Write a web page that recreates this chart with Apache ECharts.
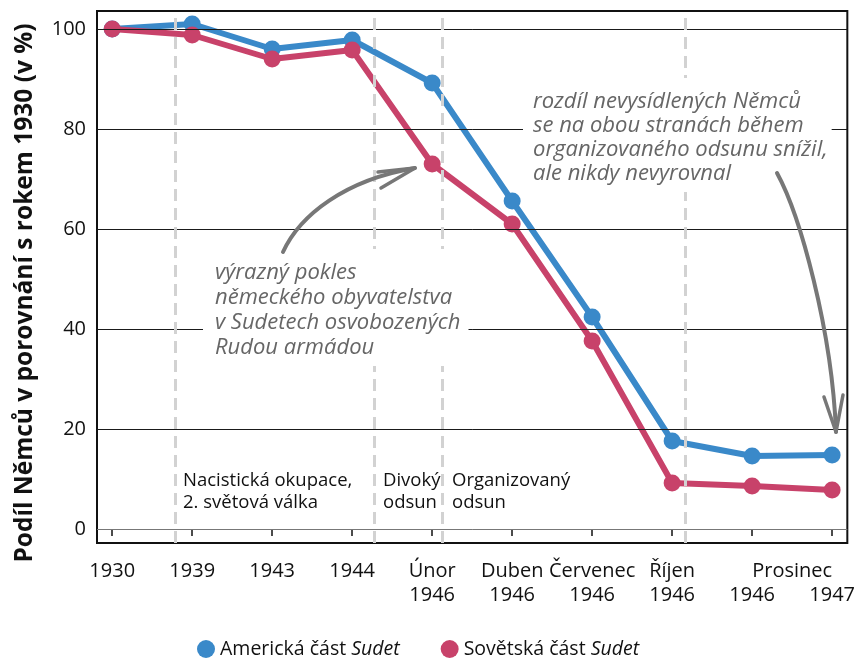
<!DOCTYPE html>
<html>
<head>
<meta charset="utf-8">
<script src="https://cdn.jsdelivr.net/npm/echarts@6/dist/echarts.min.js"></script>
<style>
  html, body { margin: 0; padding: 0; background: #fff; }
  #chart { width: 858px; height: 659px; }
</style>
</head>
<body>
<div id="chart"></div>
<script>
// data
const categories = ['1930', '1939', '1943', '1944', 'Únor\n1946', 'Duben\n1946', 'Červenec\n1946', 'Říjen\n1946', '\n1946', '\n1947'];
const sharedMonth = { at: 8.5, label: 'Prosinec' }; // "Prosinec" stojí mezi 1946 a 1947
const americanShare = [100, 101, 96, 97.8, 89.2, 65.6, 42.4, 17.6, 14.6, 14.8];
const sovietShare = [100, 98.8, 94, 95.8, 73, 61, 37.6, 9.2, 8.6, 7.8];
const yTicks = [0, 20, 40, 60, 80, 100];
const periodBreaks = [0.79, 3.28, 4.13, 7.16];
const seriesNames = ['Americká část Sudet', 'Sovětská část Sudet'];

const font = '"Open Sans", sans-serif';
const handFont = 'italic 22px "Open Sans", sans-serif';

const chart = echarts.init(document.getElementById('chart'));

const xIdx = categories.map((c, i) => i);
const toPairs = arr => arr.map((v, i) => [i, v]);

const options = {
  animation: false,
  textStyle: { fontFamily: font },
  grid: {
    left: 97, right: 8, top: 11, bottom: 116,
    show: true, borderColor: '#111', borderWidth: 2, backgroundColor: 'transparent'
  },
  xAxis: {
    type: 'value',
    min: -0.19,
    max: 9.19,
    axisLine: { show: false },
    splitLine: { show: false },
    axisTick: {
      show: true, length: 7, customValues: xIdx,
      lineStyle: { color: '#111', width: 1.5 }
    },
    axisLabel: {
      customValues: xIdx,
      margin: 16,
      fontSize: 20,
      lineHeight: 24,
      color: '#111',
      verticalAlign: 'top',
      formatter: v => categories[v]
    }
  },
  yAxis: {
    type: 'value',
    min: -2.8,
    max: 103.6,
    axisLine: { show: false },
    axisTick: { show: false },
    splitLine: { show: false },
    axisLabel: {
      customValues: yTicks,
      margin: 11,
      fontSize: 20,
      color: '#111'
    }
  },
  legend: {
    data: seriesNames,
    top: 634,
    left: 192,
    icon: 'circle',
    itemWidth: 18,
    itemHeight: 18,
    itemGap: 41,
    textStyle: {
      fontSize: 19,
      color: '#111',
      rich: {
        n: { fontSize: 19.5, color: '#111', fontFamily: font },
        i: { fontSize: 19.5, color: '#111', fontFamily: font, fontStyle: 'italic' }
      }
    },
    formatter: name => '{n|' + name.replace(/Sudet$/, '') + '}{i|Sudet}'
  },
  series: [
    {
      // pomocná řada: mřížka a hranice období
      name: 'mřížka',
      type: 'line',
      data: [],
      silent: true,
      z: 1,
      markLine: {
        symbol: 'none',
        silent: true,
        animation: false,
        label: { show: false },
        data: yTicks.map(v => ({
          yAxis: v,
          lineStyle: { color: v === 0 ? '#777' : '#1a1a1a', width: 1, type: 'solid' }
        })).concat(periodBreaks.map(v => ({
          xAxis: v,
          lineStyle: { color: '#d2d2d2', width: 3, type: [12, 7] }
        })))
      }
    },
    {
      name: seriesNames[0],
      type: 'line',
      z: 3,
      data: toPairs(americanShare),
      symbol: 'circle',
      symbolSize: 17,
      lineStyle: { color: '#3a89c9', width: 6 },
      itemStyle: { color: '#3a89c9' }
    },
    {
      name: seriesNames[1],
      type: 'line',
      z: 4,
      data: toPairs(sovietShare),
      symbol: 'circle',
      symbolSize: 17,
      lineStyle: { color: '#c8426a', width: 6 },
      itemStyle: { color: '#c8426a' }
    }
  ],
  graphic: [
    // osa Y - popisek
    {
      type: 'text', x: 25, y: 293, rotation: Math.PI / 2, z: 10,
      style: {
        text: 'Podíl Němců v porovnání s rokem 1930 (v %)',
        font: 'bold 24.5px ' + font, fill: '#111', align: 'center', verticalAlign: 'middle'
      }
    },
    // období
    {
      type: 'text', x: 183, y: 470, z: 10,
      style: { text: 'Nacistická okupace,\n2. světová válka', font: '18.5px ' + font, lineHeight: 22, fill: '#111' }
    },
    {
      type: 'text', x: 383, y: 470, z: 10,
      style: { text: 'Divoký\nodsun', font: '18.5px ' + font, lineHeight: 22, fill: '#111' }
    },
    {
      type: 'text', x: 452, y: 470, z: 10,
      style: { text: 'Organizovaný\nodsun', font: '18.5px ' + font, lineHeight: 22, fill: '#111' }
    },
    // poznámky
    {
      type: 'text', x: 523, y: 78, z: 10,
      style: {
        text: 'rozdíl nevysídlených Němců\nse na obou stranách během\norganizovaného odsunu snížil,\nale nikdy nevyrovnal',
        font: handFont, lineHeight: 24, fill: '#666',
        backgroundColor: '#fff', padding: [12, 4, 6, 10]
      }
    },
    {
      type: 'text', x: 203, y: 249, z: 10,
      style: {
        text: 'výrazný pokles\nněmeckého obyvatelstva\nv Sudetech osvobozených\nRudou armádou',
        font: handFont, lineHeight: 25, fill: '#666',
        backgroundColor: '#fff', padding: [11, 8, 6, 12]
      }
    },
    // šipky
    {
      type: 'bezierCurve', z: 11,
      shape: { x1: 283, y1: 252, cpx1: 300, cpy1: 215, cpx2: 345, cpy2: 180, x2: 415, y2: 168 },
      style: { stroke: '#777', lineWidth: 4, fill: 'none', lineCap: 'round' }
    },
    {
      type: 'polyline', z: 11,
      shape: { points: [[378, 172], [415, 168], [381, 188]] },
      style: { stroke: '#777', lineWidth: 3.5, fill: 'none', lineCap: 'round', lineJoin: 'round' }
    },
    {
      type: 'bezierCurve', z: 11,
      shape: { x1: 777, y1: 173, cpx1: 800, cpy1: 215, cpx2: 832, cpy2: 330, x2: 836, y2: 432 },
      style: { stroke: '#777', lineWidth: 4, fill: 'none', lineCap: 'round' }
    },
    {
      type: 'polyline', z: 11,
      shape: { points: [[824, 397], [836, 432], [843, 395]] },
      style: { stroke: '#777', lineWidth: 3.5, fill: 'none', lineCap: 'round', lineJoin: 'round' }
    }
  ]
};

chart.setOption(options);

// "Prosinec" - společný měsíc pro poslední dva body, umístěný přes osu X
const px = chart.convertToPixel({ xAxisIndex: 0 }, sharedMonth.at);
chart.setOption({
  graphic: options.graphic.concat([{
    type: 'text', x: px, y: 559, z: 10,
    style: { text: sharedMonth.label, font: '20px ' + font, fill: '#111', align: 'center', verticalAlign: 'top', lineHeight: 24 }
  }])
});
</script>
</body>
</html>
